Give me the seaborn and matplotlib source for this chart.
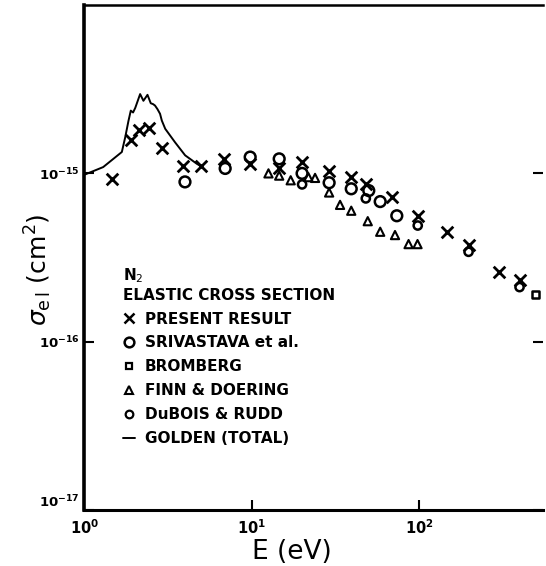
import numpy as np
import pandas as pd
import matplotlib
matplotlib.use("Agg")
import matplotlib.pyplot as plt
from matplotlib.lines import Line2D
import seaborn as sns

# ---- data (E in eV, sigma in 1e-15 cm^2) ----
present_E = [1.46, 1.90, 2.13, 2.43, 2.93, 3.92, 4.97, 6.85, 9.8, 14.6, 19.9, 29.0,
             39.3, 48.0, 68.7, 97.7, 146, 197, 298, 397]
present_s = [0.93, 1.57, 1.80, 1.85, 1.41, 1.10, 1.10, 1.22, 1.14, 1.08, 1.17, 1.04,
             0.95, 0.87, 0.72, 0.56, 0.45, 0.375, 0.26, 0.233]

sriv_E = [4.0, 6.95, 9.8, 14.6, 20.0, 29.0, 39.3, 50.0, 58.5, 73.5]
sriv_s = [0.89, 1.07, 1.25, 1.22, 1.00, 0.88, 0.81, 0.79, 0.68, 0.56]

brom_E = [493]
brom_s = [0.191]

finn_E = [12.6, 14.6, 17.1, 21.8, 23.9, 29.0, 33.7, 39.3, 49.3, 58.5, 71.7, 86.4, 97.7]
finn_s = [1.00, 0.97, 0.91, 0.95, 0.94, 0.77, 0.65, 0.60, 0.52, 0.45, 0.43, 0.38, 0.38]

dubois_E = [20.0, 48.0, 98.0, 197, 397]
dubois_s = [0.86, 0.71, 0.49, 0.342, 0.211]

golden_E = [1.0, 1.3, 1.68, 1.76, 1.84, 1.90, 1.96, 2.02, 2.16, 2.26, 2.39, 2.50,
            2.58, 2.65, 2.74, 2.84, 2.91, 3.05, 3.49, 4.01, 4.71, 4.93]
golden_s = [0.98, 1.09, 1.34, 1.64, 2.05, 2.36, 2.30, 2.45, 2.96, 2.70, 2.93, 2.61,
            2.58, 2.53, 2.41, 2.26, 2.06, 1.84, 1.53, 1.28, 1.14, 1.11]

x_ticks = [1, 10, 100]
x_labels = [r"$\mathbf{10^{0}}$", r"$\mathbf{10^{1}}$", r"$\mathbf{10^{2}}$"]
y_ticks = [1e-17, 1e-16, 1e-15]
y_labels = [r"$\mathbf{10^{-17}}$", r"$\mathbf{10^{-16}}$", r"$\mathbf{10^{-15}}$"]

sns.set_style("ticks")
plt.rcParams['font.family'] = ['DejaVu Sans']
plt.rcParams['mathtext.fontset'] = 'dejavusans'
for k in ["text.color", "axes.labelcolor", "xtick.color", "ytick.color", "axes.edgecolor"]:
    plt.rcParams[k] = "black"

fig = plt.figure(figsize=(5.46, 5.66), dpi=100)
ax = fig.add_axes([0.154, 0.099, 0.841, 0.892])

def df(E, s):
    return pd.DataFrame({"E": E, "s": np.array(s) * 1e-15})

sns.lineplot(data=df(golden_E, golden_s), x="E", y="s", ax=ax, color="black",
             lw=1.4, sort=False, estimator=None)
sns.scatterplot(data=df(present_E, present_s), x="E", y="s", ax=ax, marker="x",
                s=70, color="black", linewidth=2.0)
sns.scatterplot(data=df(sriv_E, sriv_s), x="E", y="s", ax=ax, marker="o",
                s=60, facecolor="none", edgecolor="black", linewidth=1.8)
sns.scatterplot(data=df(dubois_E, dubois_s), x="E", y="s", ax=ax, marker="o",
                s=35, facecolor="none", edgecolor="black", linewidth=1.8)
sns.scatterplot(data=df(finn_E, finn_s), x="E", y="s", ax=ax, marker="^",
                s=35, facecolor="none", edgecolor="black", linewidth=1.5)
sns.scatterplot(data=df(brom_E, brom_s), x="E", y="s", ax=ax, marker="s",
                s=30, facecolor="none", edgecolor="black", linewidth=1.8)

ax.set_xscale("log")
ax.set_yscale("log")
ax.set_xlim(1, 550)
ax.set_ylim(1e-17, 1e-14)
ax.set_xticks(x_ticks)
ax.set_xticklabels(x_labels, fontsize=10.5)
ax.set_yticks(y_ticks)
ax.set_yticklabels(y_labels, fontsize=9.5)
ax.minorticks_off()
ax.tick_params(axis="both", direction="in", length=7, width=1.5, pad=3)
ax.tick_params(axis="x", pad=6)
ax.tick_params(axis="y", right=True)
ax.get_yticklabels()[0].set_va("bottom")
ax.spines["left"].set_linewidth(2.6)
ax.spines["bottom"].set_linewidth(2.2)
ax.spines["top"].set_linewidth(1.8)
ax.spines["right"].set_visible(False)

ax.set_xlabel("E (eV)", fontsize=19)
ax.xaxis.set_label_coords(0.453, -0.058)
ax.set_ylabel(r"$\sigma_{\rm e\,l}$ (cm$^2$)", fontsize=18)
ax.yaxis.set_label_coords(-0.066, 0.475)

handles = [
    Line2D([], [], ls="none", marker="x", ms=7, mew=1.8, color="black"),
    Line2D([], [], ls="none", marker="o", ms=7, mew=1.8, mfc="none", color="black"),
    Line2D([], [], ls="none", marker="s", ms=5, mew=1.6, mfc="none", color="black"),
    Line2D([], [], ls="none", marker="^", ms=6, mew=1.5, mfc="none", color="black"),
    Line2D([], [], ls="none", marker="o", ms=5.5, mew=1.6, mfc="none", color="black"),
    Line2D([], [], ls="-", lw=1.4, color="black"),
]
labels = ["PRESENT RESULT", "SRIVASTAVA et al.", "BROMBERG", "FINN & DOERING",
          "DuBOIS & RUDD", "GOLDEN (TOTAL)"]
leg = ax.legend(handles, labels, title="N$_2$\nELASTIC CROSS SECTION",
                loc="upper left", bbox_to_anchor=(0.085, 0.482), frameon=False,
                prop={"weight": "bold", "size": 11},
                title_fontproperties={"weight": "bold", "size": 11},
                alignment="left", handlelength=0.8, handletextpad=0.6,
                labelspacing=0.58, borderpad=0, borderaxespad=0)

fig.savefig("out.png", dpi=100)
